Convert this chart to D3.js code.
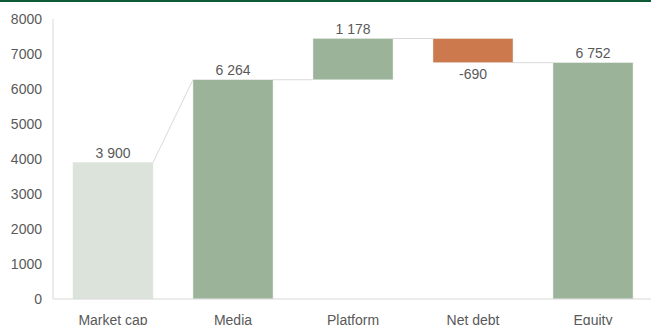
<!DOCTYPE html>
<html>
<head>
<meta charset="utf-8">
<script src="https://cdn.jsdelivr.net/npm/d3@7"></script>
<style>
  body { margin: 0; background: #fff; }
  svg { display: block; font-family: "Liberation Sans", Arial, sans-serif; }
</style>
</head>
<body>
<script>
// data
var categories = ["Market cap", "Media", "Platform", "Net debt", "Equity"];
var values = [3900, 6264, 1178, -690, 6752];
var kinds = ["start", "total", "delta", "delta", "total"];
var labels = ["3 900", "6 264", "1 178", "-690", "6 752"];
var yTicks = [0, 1000, 2000, 3000, 4000, 5000, 6000, 7000, 8000];

var width = 651, height = 325;
var margin = {top: 19, right: -2, bottom: 26, left: 53};

var svg = d3.select("body").append("svg")
    .attr("width", width)
    .attr("height", height);

// top green rule
svg.append("rect")
    .attr("x", 0).attr("y", 0)
    .attr("width", width).attr("height", 2)
    .attr("fill", "#0c5a36");

var x = d3.scaleBand()
    .domain(categories)
    .range([margin.left, width - margin.right])
    .paddingInner(1/3)
    .paddingOuter(1/6);

var y = d3.scaleLinear()
    .domain([0, 8000])
    .range([height - margin.bottom, margin.top]);

// build running totals
var run = 0;
var bars = categories.map(function(c, i) {
  var v = values[i], y0, y1;
  if (kinds[i] == "delta") {
    y0 = run; y1 = run + v; run = y1;
  } else {
    y0 = 0; y1 = v; run = v;
  }
  return {cat: c, v: v, y0: y0, y1: y1, kind: kinds[i], label: labels[i]};
});

function color(d) {
  if (d.kind == "start") return "#dce3db";
  if (d.v < 0) return "#cc7a4d";
  return "#9bb398";
}

// axes lines
svg.append("line")
    .attr("x1", margin.left).attr("x2", margin.left)
    .attr("y1", y(8000)).attr("y2", y(0))
    .attr("stroke", "#d9d9d9");

// connectors
var conn = svg.append("g").attr("stroke", "#d9d9d9").attr("stroke-width", 1);
for (var i = 0; i < bars.length - 1; i++) {
  var a = bars[i], b = bars[i+1];
  var endVal = a.y1;
  var startVal = b.kind == "delta" ? b.y0 : b.y1;
  conn.append("line")
    .attr("x1", x(a.cat) + x.bandwidth())
    .attr("y1", y(endVal))
    .attr("x2", x(b.cat))
    .attr("y2", y(startVal));
}

// bars
svg.append("g").selectAll("rect")
  .data(bars)
  .join("rect")
    .attr("x", function(d) { return x(d.cat); })
    .attr("y", function(d) { return y(Math.max(d.y0, d.y1)); })
    .attr("width", x.bandwidth())
    .attr("height", function(d) { return Math.abs(y(d.y0) - y(d.y1)); })
    .attr("fill", color)
    .attr("stroke", "#e3e8e2")
    .attr("stroke-width", 0.5);

svg.append("line")
    .attr("x1", margin.left).attr("x2", width)
    .attr("y1", y(0)).attr("y2", y(0))
    .attr("stroke", "#d9d9d9");

// value labels
svg.append("g").selectAll("text")
  .data(bars)
  .join("text")
    .attr("x", function(d) { return x(d.cat) + x.bandwidth() / 2; })
    .attr("y", function(d) {
      return d.v < 0 ? y(d.y1) + 16 : y(Math.max(d.y0, d.y1)) - 5;
    })
    .attr("text-anchor", "middle")
    .attr("font-size", 14)
    .attr("fill", "#595959")
    .text(function(d) { return d.label; });

// y tick labels
svg.append("g").selectAll("text")
  .data(yTicks)
  .join("text")
    .attr("x", 42)
    .attr("y", function(d) { return y(d); })
    .attr("dy", "0.35em")
    .attr("text-anchor", "end")
    .attr("font-size", 14)
    .attr("fill", "#595959")
    .text(function(d) { return d; });

// category labels
svg.append("g").selectAll("text")
  .data(categories)
  .join("text")
    .attr("x", function(d) { return x(d) + x.bandwidth() / 2; })
    .attr("y", 325)
    .attr("text-anchor", "middle")
    .attr("font-size", 14)
    .attr("fill", "#595959")
    .text(function(d) { return d; });
</script>
</body>
</html>
